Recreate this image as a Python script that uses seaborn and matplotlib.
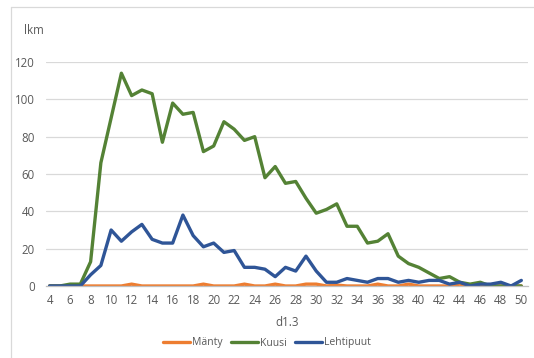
import numpy as np
import pandas as pd
import matplotlib
matplotlib.use("Agg")
import matplotlib.pyplot as plt
from matplotlib.lines import Line2D
import seaborn as sns

# diameter classes d1.3 and counts per species
d13 = list(range(4, 51))
manty = [0, 0, 0, 0, 0, 0, 0, 0, 1, 0, 0, 0, 0, 0, 0, 1, 0, 0, 0, 1, 0, 0, 1, 0,
         0, 1, 1, 0, 0.5, 0, 0, 0, 1, 0, 0, 1, 0, 0, 0, 0, 1, 0, 0, 0, 0, 0, 0]
kuusi = [0, 0, 1, 1, 13, 66, 90, 114, 102, 105, 103, 77, 98, 92, 93, 72, 75, 88, 84,
         78, 80, 58, 64, 55, 56, 47, 39, 41, 44, 32, 32, 23, 24, 28, 16, 12, 10, 7,
         4, 5, 2, 1, 2, 0, 0, 0, 0]
lehtipuut = [0, 0, 0, 0, 6, 11, 30, 24, 29, 33, 25, 23, 23, 38, 27, 21, 23, 18, 19,
             10, 10, 9, 5, 10, 8, 16, 8, 2, 2, 4, 3, 2, 4, 4, 2, 3, 2, 3, 3, 1, 2, 0,
             1, 1, 2, 0, 3]

df = pd.DataFrame({"d1.3": d13, "Mänty": manty, "Kuusi": kuusi, "Lehtipuut": lehtipuut})
long = df.melt(id_vars="d1.3", var_name="laji", value_name="lkm")

sns.set_style("white")
plt.rcParams["font.family"] = ["Open Sans", "DejaVu Sans"]

colors = {"Mänty": "#ED7D31", "Kuusi": "#548235", "Lehtipuut": "#2F5597"}
grey = "#595959"

fig = plt.figure(figsize=(5.34, 3.58), dpi=100)
ax = fig.add_axes([46 / 534, 1 - 286 / 358, (528 - 46) / 534, (286 - 62) / 358])

sns.lineplot(data=long, x="d1.3", y="lkm", hue="laji", palette=colors,
             linewidth=2.4, ax=ax, legend=False)

ax.set_xlim(3.65, 50.65)
ax.set_ylim(0, 120)
ax.set_xticks(range(4, 51, 2))
ax.set_yticks(range(0, 121, 20))
ax.tick_params(axis="both", length=0, labelsize=8.3, labelcolor=grey)
ax.tick_params(axis="y", pad=8)
ax.tick_params(axis="x", pad=6)
ax.grid(axis="y", color="#D9D9D9", linewidth=0.9)
for s in ["top", "right", "left"]:
    ax.spines[s].set_visible(False)
ax.spines["bottom"].set_color("#BFBFBF")
ax.spines["bottom"].set_linewidth(0.9)
ax.set_xlabel("d1.3", fontsize=8.3, color=grey, labelpad=6)
ax.set_ylabel("")

fig.text(24 / 534, 1 - 31 / 358, "lkm", fontsize=8.3, color=grey, va="center", ha="left")

handles = [Line2D([0], [0], color=colors[k], linewidth=2.4) for k in ["Mänty", "Kuusi", "Lehtipuut"]]
fig.legend(handles, ["Mänty", "Kuusi", "Lehtipuut"], loc="center", ncol=3,
           bbox_to_anchor=(0.5, 1 - 343 / 358), frameon=False, fontsize=7.5,
           labelcolor=grey, handlelength=2.6, handletextpad=0.2, columnspacing=0.8)

# outer chart border (left and top)
fig.add_artist(Line2D([11 / 534, 11 / 534], [0, 1 - 7 / 358], color="#D9D9D9", linewidth=0.9))
fig.add_artist(Line2D([11 / 534, 1], [1 - 7 / 358, 1 - 7 / 358], color="#D9D9D9", linewidth=0.9))

fig.savefig("out.png", dpi=100)
